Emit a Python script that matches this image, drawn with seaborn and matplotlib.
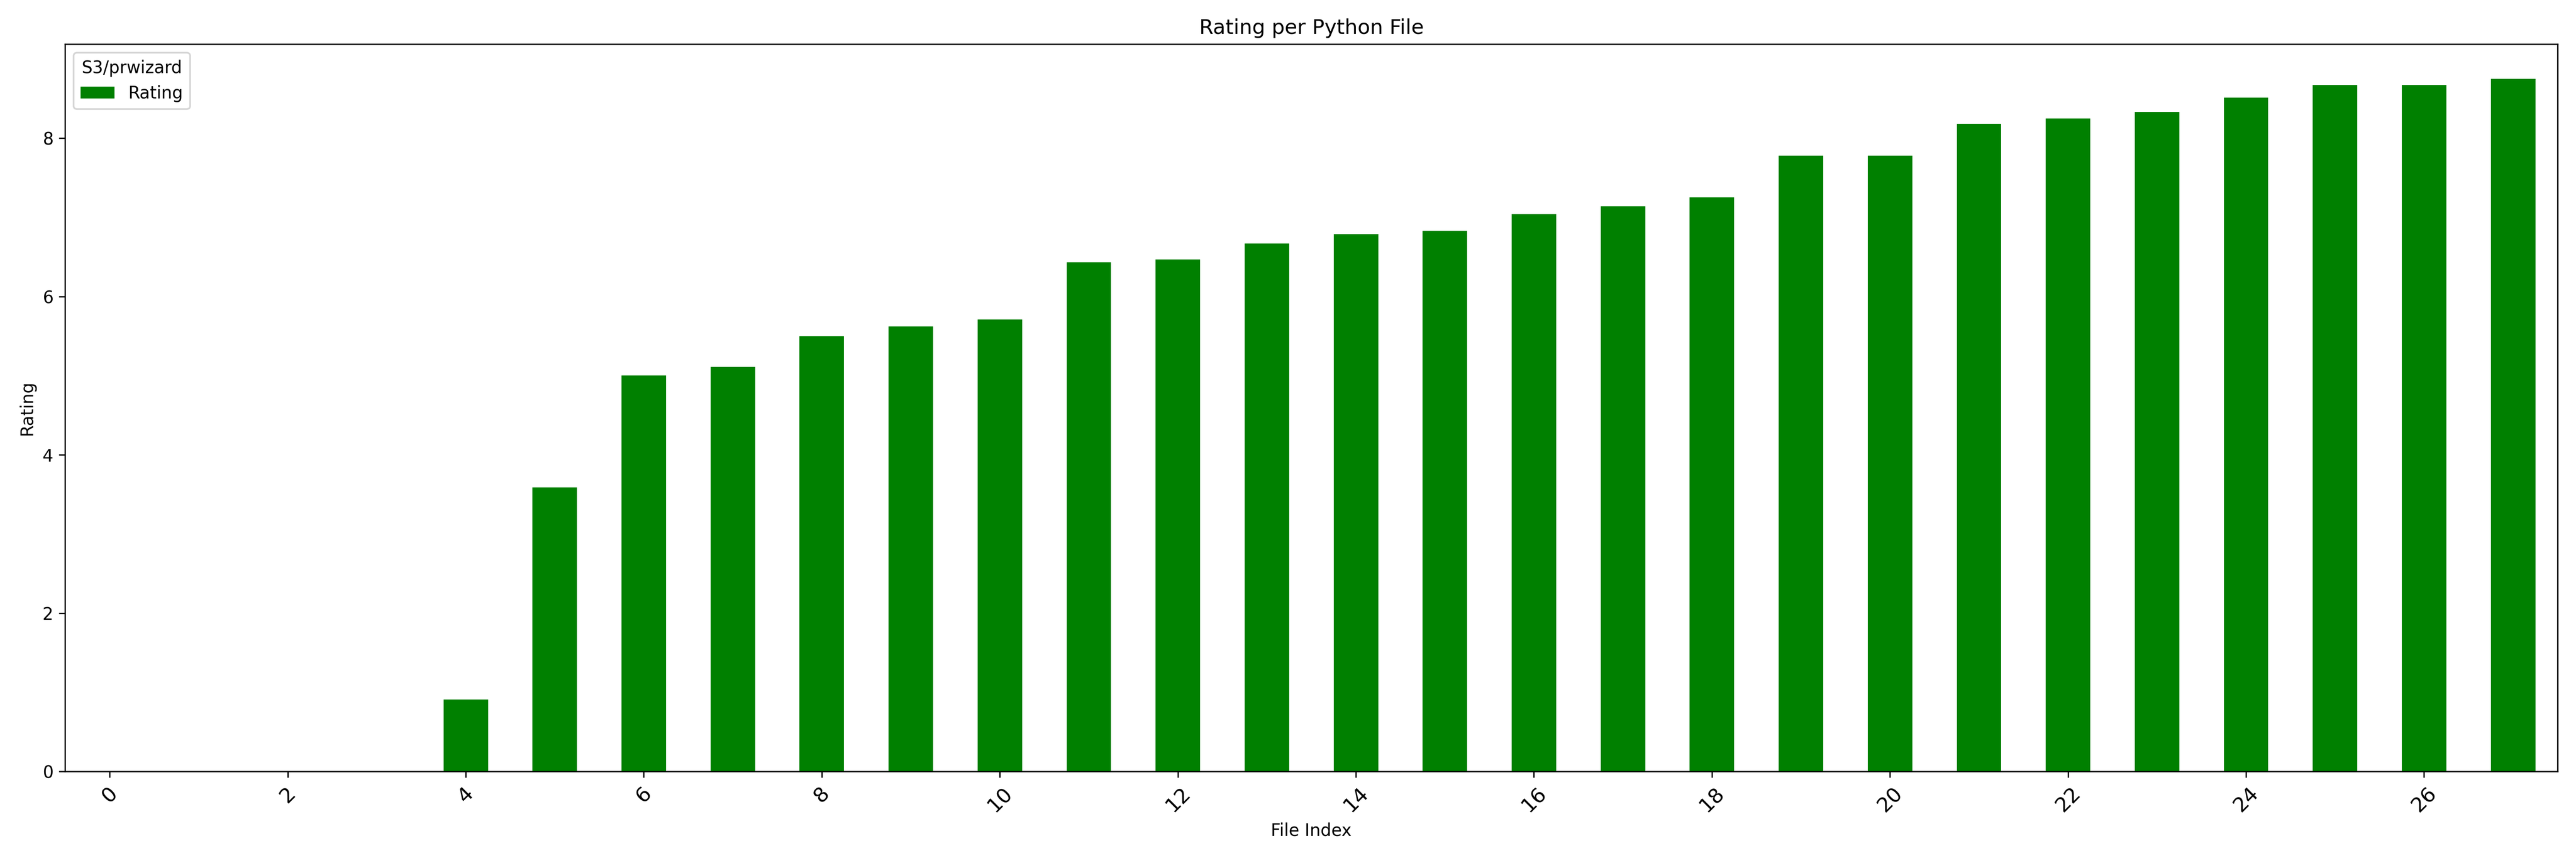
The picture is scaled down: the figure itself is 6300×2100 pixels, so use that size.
import numpy as np
import pandas as pd
import matplotlib
matplotlib.use("Agg")
import matplotlib.pyplot as plt
import seaborn as sns

file_index = list(range(28))
ratings = [0, 0, 0, 0, 0.91, 3.59, 5.00, 5.11, 5.50, 5.62, 5.71, 6.43, 6.47, 6.67,
           6.79, 6.83, 7.04, 7.14, 7.25, 7.78, 7.78, 8.18, 8.25, 8.33, 8.51, 8.67,
           8.67, 8.75]

df = pd.DataFrame({"File Index": file_index, "Rating": ratings})

fig, ax = plt.subplots(figsize=(21, 7), dpi=300)
sns.barplot(data=df, x="File Index", y="Rating", color="green", width=0.5,
            saturation=1, label="Rating", ax=ax)

ax.set_xlim(-0.5, len(file_index) - 0.5)
ax.set_xticks(file_index[::2])
ax.set_xticklabels([str(i) for i in file_index[::2]], rotation=45, fontsize=12)
ax.set_title("Rating per Python File")
ax.set_xlabel("File Index")
ax.set_ylabel("Rating")
ax.legend(title="S3/prwizard", loc="upper left")

plt.tight_layout()
plt.savefig("out.png", dpi=300)
